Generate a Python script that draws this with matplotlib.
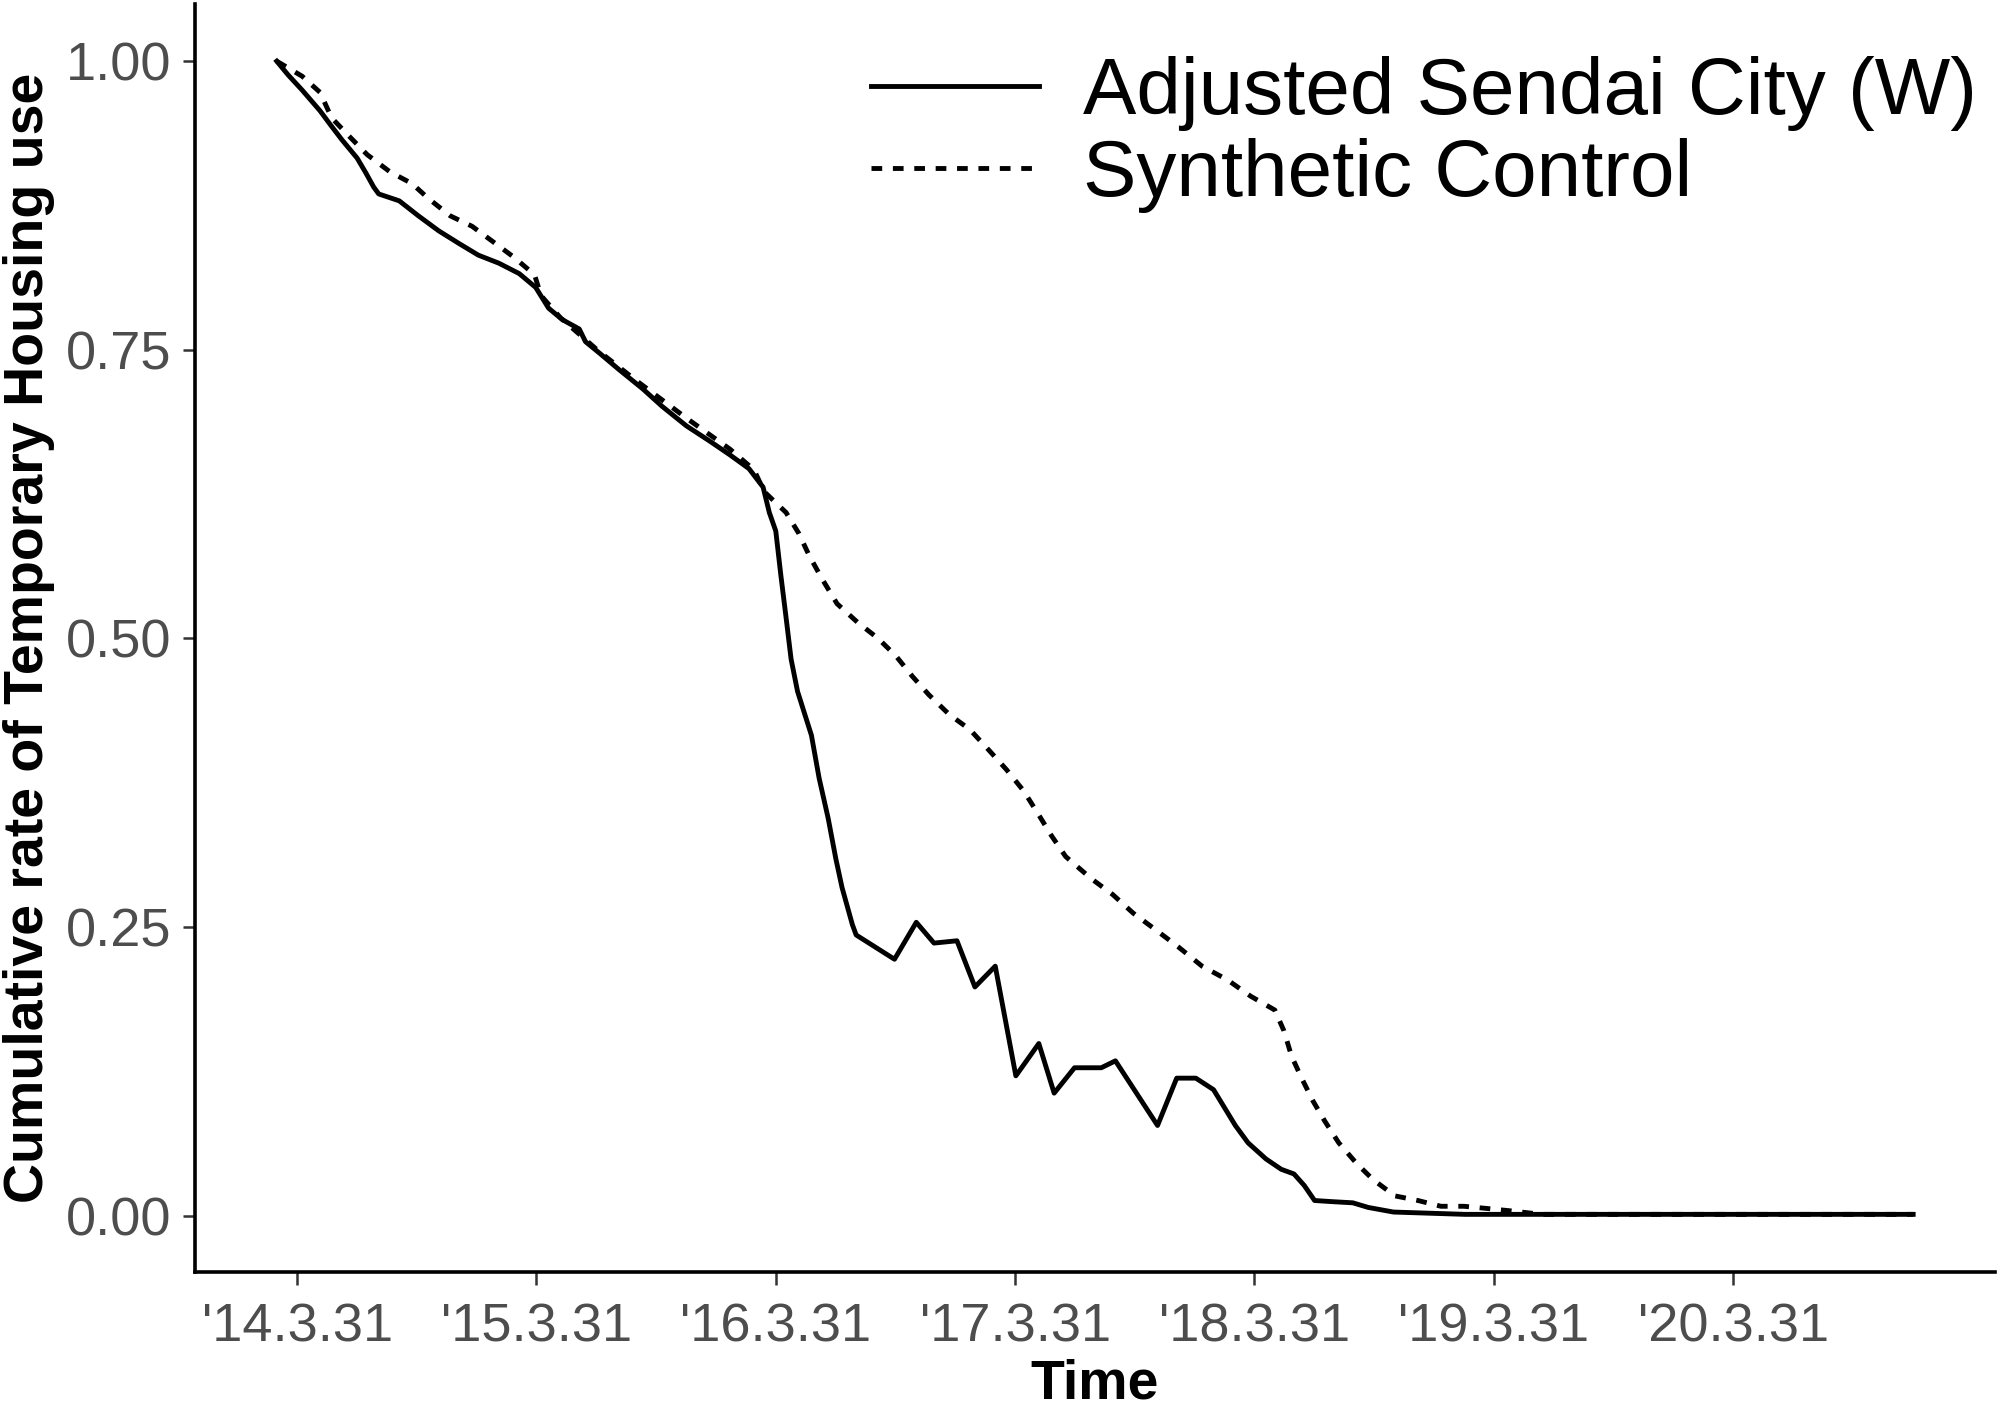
import numpy as np
import matplotlib
matplotlib.use('Agg')
import matplotlib.pyplot as plt

plt.rcParams['font.family'] = ['Liberation Sans', 'DejaVu Sans']

# time in years after 2014-03-31
t_sendai = [-0.085, -0.037, 0.021, 0.096, 0.139, 0.187, 0.251, 0.288, 0.320, 0.341,
            0.427, 0.507, 0.592, 0.677, 0.757, 0.843, 0.928, 0.997, 1.051, 1.109,
            1.179, 1.205, 1.264, 1.344, 1.445, 1.525, 1.627, 1.723, 1.808, 1.888,
            1.947, 1.973, 2.000, 2.021, 2.043, 2.064, 2.091, 2.149, 2.181, 2.219,
            2.251, 2.277, 2.320, 2.336, 2.496, 2.587, 2.661, 2.757, 2.832, 2.917,
            3.003, 3.099, 3.163, 3.248, 3.360, 3.419, 3.595, 3.675, 3.755, 3.829,
            3.920, 3.973, 4.048, 4.112, 4.165, 4.208, 4.251, 4.325, 4.411, 4.475,
            4.581, 4.880, 6.752]
y_sendai = [1.000, 0.988, 0.975, 0.957, 0.945, 0.932, 0.916, 0.903, 0.891, 0.885,
            0.879, 0.866, 0.853, 0.842, 0.832, 0.825, 0.816, 0.804, 0.786, 0.776,
            0.768, 0.757, 0.747, 0.733, 0.716, 0.701, 0.684, 0.671, 0.659, 0.647,
            0.631, 0.609, 0.593, 0.555, 0.518, 0.482, 0.454, 0.416, 0.379, 0.344,
            0.309, 0.284, 0.252, 0.243, 0.222, 0.254, 0.236, 0.238, 0.198, 0.216,
            0.121, 0.149, 0.106, 0.128, 0.128, 0.134, 0.078, 0.119, 0.119, 0.109,
            0.078, 0.063, 0.049, 0.040, 0.036, 0.026, 0.013, 0.012, 0.011, 0.007,
            0.003, 0.001, 0.001]

t_synth = [-0.085, 0.021, 0.096, 0.144, 0.213, 0.293, 0.389, 0.480, 0.549, 0.640,
           0.731, 0.816, 0.907, 0.992, 1.019, 1.099, 1.259, 1.419, 1.632, 1.808,
           1.909, 1.952, 2.043, 2.096, 2.139, 2.192, 2.256, 2.341, 2.427, 2.501,
           2.571, 2.640, 2.725, 2.811, 2.891, 2.965, 3.035, 3.093, 3.152, 3.211,
           3.317, 3.408, 3.493, 3.584, 3.680, 3.781, 3.888, 3.984, 4.085, 4.123,
           4.155, 4.197, 4.245, 4.293, 4.352, 4.427, 4.496, 4.587, 4.683, 4.779,
           4.875, 4.976, 5.072, 5.200, 6.752]
y_synth = [1.000, 0.987, 0.973, 0.951, 0.936, 0.919, 0.904, 0.894, 0.881, 0.866,
           0.857, 0.844, 0.830, 0.815, 0.797, 0.778, 0.749, 0.723, 0.690, 0.664,
           0.646, 0.627, 0.609, 0.591, 0.572, 0.552, 0.530, 0.514, 0.500, 0.485,
           0.467, 0.451, 0.434, 0.421, 0.403, 0.386, 0.368, 0.349, 0.329, 0.311,
           0.292, 0.278, 0.262, 0.248, 0.233, 0.216, 0.204, 0.190, 0.178, 0.160,
           0.138, 0.119, 0.099, 0.082, 0.063, 0.045, 0.031, 0.017, 0.013, 0.008,
           0.008, 0.006, 0.004, 0.001, 0.001]

xtick_pos = [0, 1, 2, 3, 4, 5, 6]
xtick_labels = ["'14.3.31", "'15.3.31", "'16.3.31", "'17.3.31", "'18.3.31", "'19.3.31", "'20.3.31"]
ytick_pos = [0.00, 0.25, 0.50, 0.75, 1.00]

fig = plt.figure(figsize=(19.99, 14.11), dpi=100)
ax = fig.add_axes([0.0975, 0.0985, 0.9005, 0.899])

ax.plot(t_synth, y_synth, color='black', lw=3.5, linestyle=(0, (2.2, 2.2)), label='Synthetic Control')
ax.plot(t_sendai, y_sendai, color='black', lw=3.5, label='Adjusted Sendai City (W)')

ax.margins(x=0.05, y=0.05)
ax.set_xticks(xtick_pos)
ax.set_xticklabels(xtick_labels)
ax.set_yticks(ytick_pos)
ax.set_yticklabels(['%.2f' % v for v in ytick_pos])

for s in ['top', 'right']:
    ax.spines[s].set_visible(False)
for s in ['left', 'bottom']:
    ax.spines[s].set_linewidth(2.6)
ax.tick_params(axis='both', labelsize=39, colors='#333333', labelcolor='#4d4d4d',
               length=9, width=1.8)
ax.tick_params(axis='x', pad=13)
ax.tick_params(axis='y', pad=8)

ax.set_xlabel('Time', fontsize=40, fontweight='bold', labelpad=4)
ax.set_ylabel('Cumulative rate of Temporary Housing use', fontsize=40, fontweight='bold', labelpad=8)

h, l = ax.get_legend_handles_labels()
leg = ax.legend(h[::-1], l[::-1], loc='upper right', bbox_to_anchor=(1.012, 0.99),
                fontsize=57.6, frameon=False, handlelength=2.1, handletextpad=0.55,
                labelspacing=0.08, borderaxespad=0.1)

fig.savefig('out.png', dpi=100)
